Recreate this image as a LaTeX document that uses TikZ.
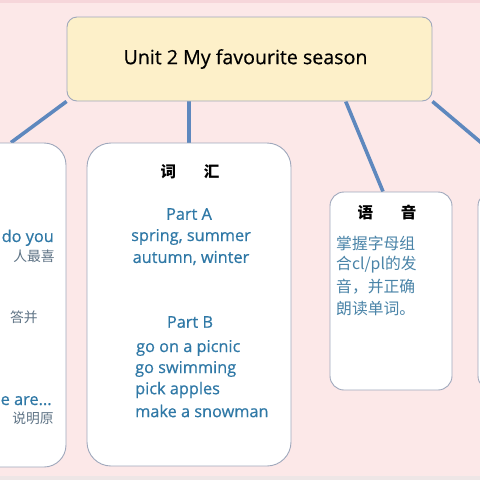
\documentclass[tikz,border=0pt]{standalone}
\usepackage{fontspec}
\setmainfont{Open Sans}[FakeBold=0.6]
\newfontfamily\cjk{Noto Sans CJK SC}
\usetikzlibrary{calc,backgrounds}
\definecolor{bgpink}{HTML}{FCE8E8}
\definecolor{toppink}{HTML}{F6D6DA}
\definecolor{botgrey}{HTML}{EEE6E6}
\definecolor{titlefill}{HTML}{FDF0C9}
\definecolor{boxborder}{HTML}{9FA8BC}
\definecolor{linkblue}{HTML}{5E88BE}
\definecolor{engblue}{HTML}{2F78A6}
\definecolor{cnblue}{HTML}{4A84A8}
\definecolor{cngrey}{HTML}{5F7486}
\tikzset{
  titlebox/.style={draw=boxborder, line width=0.9pt, fill=titlefill, rounded corners=10pt, inner sep=0pt},
  cardbox/.style={draw=boxborder, line width=0.9pt, fill=white, inner sep=0pt},
  link/.style={draw=linkblue, line width=3.6pt},
  eng/.style={text=engblue, font=\fontsize{16.3}{19}\selectfont, inner sep=0pt},
  cnhead/.style={text=black, font=\cjk\bfseries\fontsize{15.5}{17}\selectfont, inner sep=0pt},
  cnbody/.style={text=cnblue, font=\cjk\fontsize{15.8}{18}\selectfont, inner sep=0pt},
  cngreytxt/.style={text=cngrey, font=\cjk\fontsize{13.8}{16}\selectfont, inner sep=0pt},
}
\begin{document}
\begin{tikzpicture}[x=1pt,y=-1pt]
\useasboundingbox (0,0) rectangle (480,480);
\clip (0,0) rectangle (480,480);

% boxes
\node[titlebox, minimum width=365pt, minimum height=84pt] (title) at (249.5,59)
  {\fontsize{19.6}{23}\selectfont Unit 2 My favourite season\hspace*{8pt}};
\node[cardbox, rounded corners=22pt, minimum width=110pt, minimum height=324pt] (left) at (11,305) {};
\node[cardbox, rounded corners=24pt, minimum width=204pt, minimum height=323pt] (vocab) at (189,304.5) {};
\node[cardbox, rounded corners=14pt, minimum width=122pt, minimum height=198pt] (phon) at (391,291) {};
\node[cardbox, rounded corners=14pt, minimum width=122pt, minimum height=198pt] (right) at (539,291) {};

% connectors behind the boxes
\begin{pgfonlayer}{background}
\fill[bgpink] (0,0) rectangle (480,480);
\fill[toppink] (0,0) rectangle (480,3);
\fill[botgrey] (0,476) rectangle (480,480);
\draw[link] (title.south west) -- (left.north);
\draw[link] (title.south -| vocab.north) -- (vocab.north);
\draw[link] ($(title.south west)!0.763!(title.south east)$) -- ($(phon.north)+(-8,0)$);
\draw[link] (title.south east) -- (right.north);
\end{pgfonlayer}

% left box text (the rest lies beyond the picture's left edge)
\node[eng, anchor=base west] (l1) at (1.5,242) {do you};
\node[cngreytxt, anchor=base east] (l2) at (55,261) {人最喜};
\node[cngreytxt, anchor=base west] (l3) at (10,322) {答并};
\node[eng, anchor=base west] (l4) at (0.5,405) {e are...};
\node[cngreytxt, anchor=base east] (l5) at (54,423) {说明原};

% vocabulary box text
\node[cnhead] (vh) at (190,172) {词\hspace{1.8em}汇};
\node[eng] (pa) at (189,214) {Part A};
\node[eng] (pa1) at (191,237) {spring, summer};
\node[eng] (pa2) at (191,258) {autumn, winter};
\node[eng] (pb) at (190,322) {Part B};
\node[eng, anchor=west] (pb1) at (136,348) {go on a picnic};
\node[eng, anchor=west] (pb2) at (135,369) {go swimming};
\node[eng, anchor=west] (pb3) at (135,390) {pick apples};
\node[eng, anchor=west] (pb4) at (135,411) {make a snowman};

% phonics box text
\node[cnhead] (ph) at (387,213) {语\hspace{1.8em}音};
\node[cnbody, anchor=west] (p1) at (336,243) {掌握字母组};
\node[cnbody, anchor=west] (p2) at (336,265) {合cl/pl的发};
\node[cnbody, anchor=west] (p3) at (336,287) {音，并正确};
\node[cnbody, anchor=west] (p4) at (336,309) {朗读单词。};
\end{tikzpicture}
\end{document}
